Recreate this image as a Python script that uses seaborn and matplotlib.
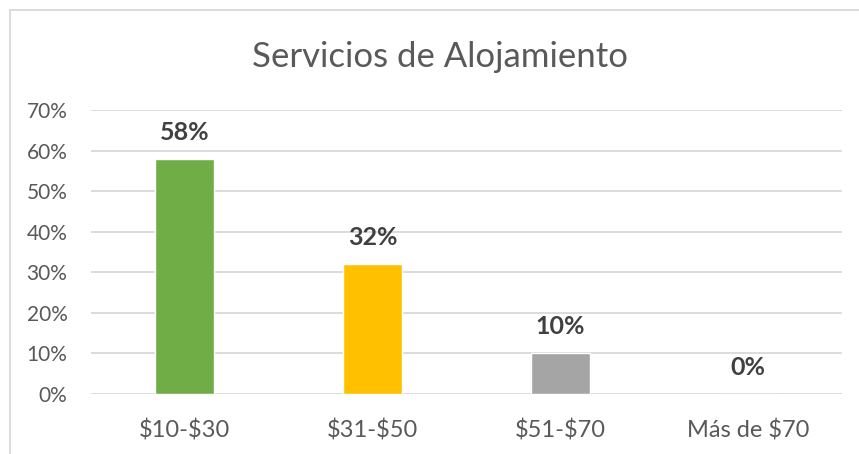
import matplotlib
matplotlib.use("Agg")
import matplotlib.pyplot as plt
import seaborn as sns
import pandas as pd
from matplotlib.patches import Rectangle

categories = ["$10-$30", "$31-$50", "$51-$70", "Más de $70"]
values = [58, 32, 10, 0]
colors = ["#70AD47", "#FFC000", "#A5A5A5", "#5B9BD5"]
yticks = [0, 10, 20, 30, 40, 50, 60, 70]
title = "Servicios de Alojamiento"

sns.set_theme(style="white")
plt.rcParams["font.family"] = ["Lato", "DejaVu Sans"]

df = pd.DataFrame({"cat": categories, "val": values})

fig = plt.figure(figsize=(8.59, 4.54), dpi=100)
ax = fig.add_axes([91/859, (454-394)/454, (842-91)/859, (394-110)/454])

sns.barplot(data=df, x="cat", y="val", hue="cat", palette=colors, legend=False,
            width=0.315, ax=ax, saturation=1)

ax.set_ylim(0, 70)
ax.set_xlim(-0.5, 3.5)
ax.set_yticks(yticks)
ax.set_yticklabels([f"{t}%" for t in yticks])
ax.set_xticks(range(len(categories)))
ax.set_xticklabels([c.replace("$", r"\$") for c in categories])
ax.yaxis.grid(True, color="#D9D9D9", linewidth=1.3)
ax.set_axisbelow(True)
for s in ax.spines.values():
    s.set_visible(False)
ax.set_xlabel("")
ax.set_ylabel("")
ax.tick_params(axis="y", length=0, pad=17, labelsize=15, labelcolor="#595959")
ax.tick_params(axis="x", length=0, pad=18, labelsize=17, labelcolor="#595959")

for i, v in enumerate(values):
    ax.annotate(f"{v}%", (i, v), xytext=(0, 19), textcoords="offset pixels",
                ha="center", va="baseline", fontsize=18, fontweight="bold", color="#404040")

fig.text(440/859, 1 - 57/454, title, ha="center", va="center", fontsize=25, color="#595959")

# chart border (left and top visible)
fig.add_artist(Rectangle((10/859, -0.1), 1.2, (454-10)/454 + 0.1, transform=fig.transFigure,
                         fill=False, edgecolor="#D9D9D9", linewidth=1.3))

fig.savefig("out.png", dpi=100)
